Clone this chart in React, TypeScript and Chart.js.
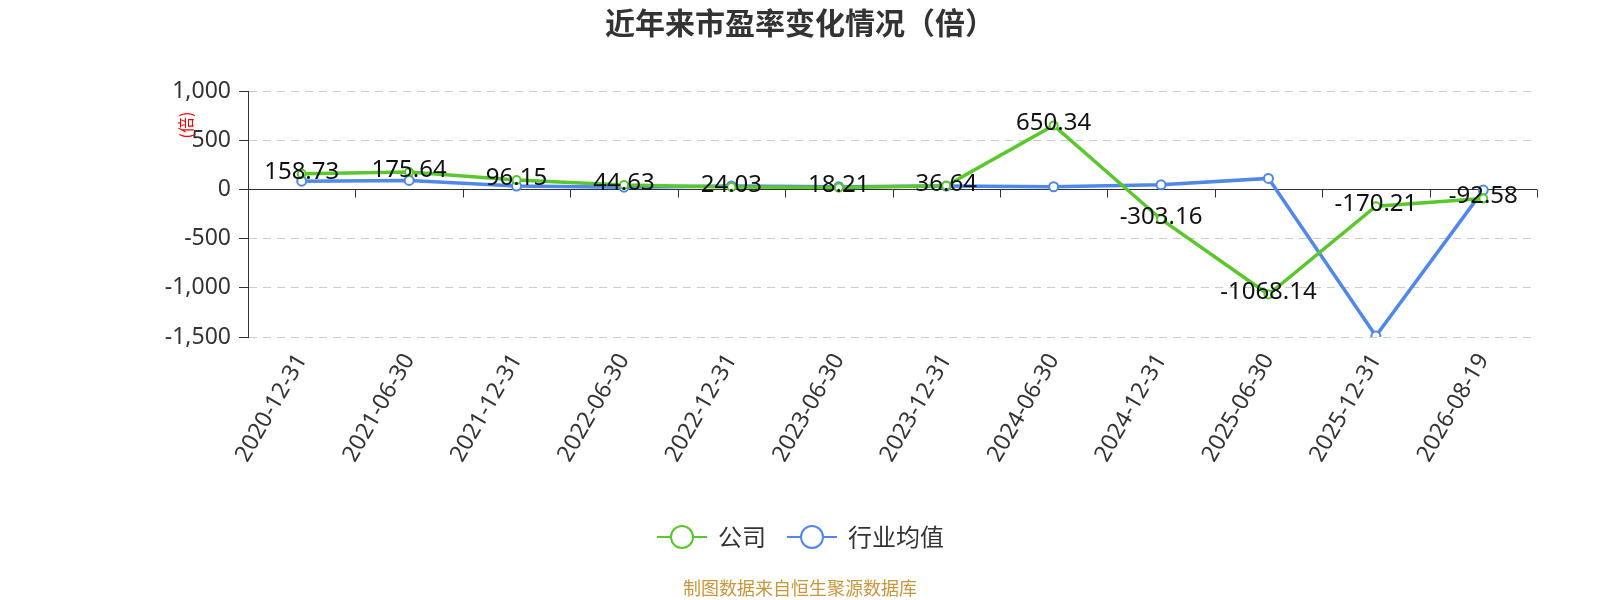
import { useEffect, useRef } from "react";
import { Chart, registerables, Plugin } from "chart.js";

Chart.register(...registerables);

const categories = [
  "2020-12-31",
  "2021-06-30",
  "2021-12-31",
  "2022-06-30",
  "2022-12-31",
  "2023-06-30",
  "2023-12-31",
  "2024-06-30",
  "2024-12-31",
  "2025-06-30",
  "2025-12-31",
  "2026-08-19",
];
const companyPE = [158.73, 175.64, 96.15, 44.63, 24.03, 18.21, 36.64, 650.34, -303.16, -1068.14, -170.21, -92.58];
const industryPE = [84, 91, 34, 23, 34, 26, 34, 27, 47, 112, -1490, -7];
const yTicks = [-1500, -1000, -500, 0, 500, 1000];

const GREEN = "#5ac72c";
const BLUE = "#5087ec";
const FONT = "'Noto Sans', 'Noto Sans CJK SC', sans-serif";
const CJK = "'Noto Sans CJK SC', 'Noto Sans', sans-serif";

// title, y-axis unit, x axis at zero, value labels, legend, footer
const decorations: Plugin<"line"> = {
  id: "decorations",
  beforeDatasetsDraw(chart) {
    const { ctx, chartArea } = chart;
    const x = chart.scales.x;
    const y = chart.scales.y;
    const zeroY = Math.round(y.getPixelForValue(0)) + 0.5;
    ctx.save();
    ctx.strokeStyle = "#333";
    ctx.lineWidth = 1;
    ctx.beginPath();
    ctx.moveTo(chartArea.left, zeroY);
    ctx.lineTo(chartArea.right, zeroY);
    const step = (chartArea.right - chartArea.left) / categories.length;
    for (let i = 0; i <= categories.length; i++) {
      const tx = Math.round(x.left + i * step) + 0.5;
      ctx.moveTo(tx, zeroY);
      ctx.lineTo(tx, zeroY + 8);
    }
    ctx.stroke();
    ctx.restore();
  },
  afterDatasetsDraw(chart) {
    const { ctx } = chart;
    const meta = chart.getDatasetMeta(0);
    ctx.save();
    ctx.fillStyle = "#111";
    ctx.font = `24px ${FONT}`;
    ctx.textAlign = "center";
    ctx.textBaseline = "middle";
    meta.data.forEach((pt, i) => {
      ctx.fillText(String(companyPE[i]), pt.x, pt.y - 2);
    });
    ctx.restore();
  },
  afterDraw(chart) {
    const { ctx } = chart;
    ctx.save();
    // title
    ctx.fillStyle = "#333";
    ctx.font = `bold 30px ${CJK}`;
    ctx.textAlign = "center";
    ctx.textBaseline = "middle";
    ctx.fillText("近年来市盈率变化情况（倍）", 800, 23);

    // y unit
    ctx.save();
    ctx.translate(186, 125);
    ctx.rotate(-Math.PI / 2);
    ctx.fillStyle = "#ff0000";
    ctx.font = `16px ${CJK}`;
    ctx.fillText("(倍)", 0, 0);
    ctx.restore();

    // legend
    const items = [
      { label: "公司", color: GREEN, x: 657 },
      { label: "行业均值", color: BLUE, x: 787 },
    ];
    const ly = 537;
    ctx.font = `24px ${CJK}`;
    ctx.textAlign = "left";
    items.forEach((it) => {
      ctx.strokeStyle = it.color;
      ctx.lineWidth = 2;
      ctx.beginPath();
      ctx.moveTo(it.x, ly);
      ctx.lineTo(it.x + 50, ly);
      ctx.stroke();
      ctx.beginPath();
      ctx.arc(it.x + 25, ly, 11, 0, Math.PI * 2);
      ctx.fillStyle = "#fff";
      ctx.fill();
      ctx.stroke();
      ctx.fillStyle = "#333";
      ctx.fillText(it.label, it.x + 61, ly);
    });

    // footer
    ctx.fillStyle = "#c8963c";
    ctx.font = `18px ${CJK}`;
    ctx.textAlign = "center";
    ctx.fillText("制图数据来自恒生聚源数据库", 800, 588);
    ctx.restore();
  },
};

export default function App() {
  const chartRef = useRef<HTMLCanvasElement>(null);
  const chartInstance = useRef<Chart | null>(null);

  useEffect(() => {
    if (!chartRef.current) return;
    if (chartInstance.current) {
      chartInstance.current.destroy();
    }
    const ctx = chartRef.current.getContext("2d");
    if (!ctx) return;

    Chart.defaults.font.family = FONT;

    chartInstance.current = new Chart(ctx, {
      type: "line",
      data: {
        labels: categories,
        datasets: [
          {
            label: "公司",
            data: companyPE,
            borderColor: GREEN,
            backgroundColor: GREEN,
            borderWidth: 3.5,
            pointRadius: 4,
            pointBackgroundColor: "#fff",
            pointBorderColor: GREEN,
            pointBorderWidth: 2,
            tension: 0,
          },
          {
            label: "行业均值",
            data: industryPE,
            borderColor: BLUE,
            backgroundColor: BLUE,
            borderWidth: 3.5,
            pointRadius: 4.5,
            pointBackgroundColor: "#fff",
            pointBorderColor: BLUE,
            pointBorderWidth: 2,
            tension: 0,
          },
        ],
      },
      options: {
        responsive: true,
        maintainAspectRatio: false,
        animation: false,
        layout: {
          padding: { top: 91, right: 63, left: 0, bottom: 0 },
        },
        plugins: {
          legend: { display: false },
          title: { display: false },
          tooltip: { enabled: false },
        },
        scales: {
          x: {
            offset: true,
            grid: { display: false },
            border: { display: false },
            ticks: {
              autoSkip: false,
              maxRotation: 60,
              minRotation: 60,
              color: "#333",
              font: { size: 23 },
              padding: 4,
            },
            afterFit: (scale) => {
              scale.height = 263;
            },
          },
          y: {
            min: yTicks[0],
            max: yTicks[yTicks.length - 1],
            afterBuildTicks: (scale) => {
              scale.ticks = yTicks.map((v) => ({ value: v }));
            },
            ticks: {
              color: "#333",
              font: { size: 23 },
              padding: 8,
            },
            grid: {
              color: "#ccc",
              tickColor: "#333",
              tickLength: 9,
            },
            border: {
              display: true,
              color: "#333",
              width: 1,
              dash: [8, 6],
            },
            afterFit: (scale) => {
              scale.width = 248;
            },
          },
        },
      },
      plugins: [decorations],
    });

    return () => {
      if (chartInstance.current) {
        chartInstance.current.destroy();
        chartInstance.current = null;
      }
    };
  }, []);

  return (
    <div style={{ position: "fixed", left: 0, top: 0, width: 1600, height: 600, background: "#fff" }}>
      <canvas ref={chartRef} />
    </div>
  );
}
